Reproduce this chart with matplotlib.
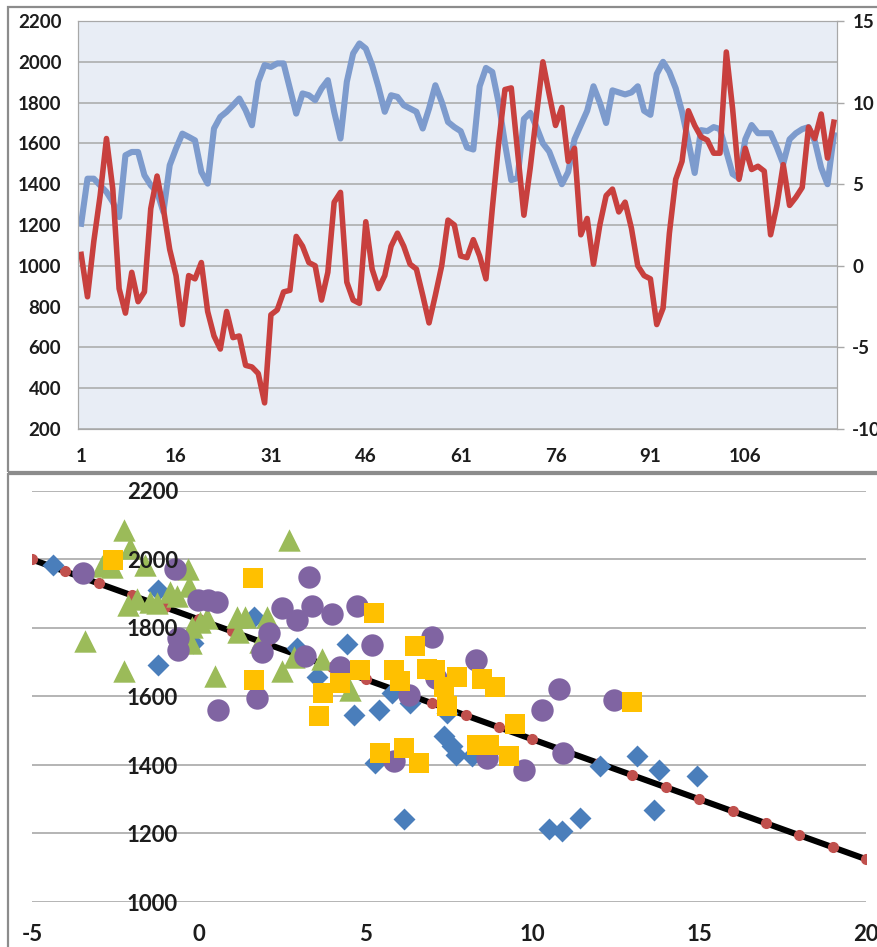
import matplotlib.pyplot as plt
from matplotlib.patches import Rectangle

plt.rcParams['font.family'] = ['Lato', 'DejaVu Sans']
plt.rcParams['axes.unicode_minus'] = False

# monthly series: left axis (blue) and right axis (red)
blue_vals = [1206, 1427, 1427, 1394, 1362, 1313, 1239, 1542, 1558, 1558,
             1444, 1395, 1362, 1264, 1493, 1575, 1648, 1632, 1615, 1460,
             1403, 1673, 1730, 1755, 1787, 1820, 1763, 1689, 1902, 1984,
             1975, 1992, 1992, 1869, 1746, 1845, 1836, 1812, 1869, 1910,
             1755, 1624, 1902, 2041, 2090, 2065, 1984, 1877, 1755, 1836,
             1828, 1787, 1771, 1755, 1673, 1771, 1885, 1804, 1705, 1680,
             1660, 1580, 1570, 1880, 1970, 1950, 1800, 1600, 1420, 1430,
             1720, 1750, 1680, 1600, 1560, 1480, 1400, 1460, 1620, 1690,
             1760, 1880, 1800, 1700, 1860, 1850, 1840, 1850, 1880, 1760,
             1740, 1940, 2000, 1950, 1870, 1755, 1610, 1455, 1665, 1660,
             1680, 1670, 1560, 1450, 1430, 1620, 1690, 1650, 1650, 1650,
             1580, 1500, 1620, 1650, 1670, 1680, 1610, 1480, 1400, 1640]
red_vals = [0.7, -1.9, 1.5, 4.3, 7.8, 4.7, -1.4, -2.9, -0.4, -2.2,
            -1.6, 3.5, 5.5, 3.5, 1.0, -0.6, -3.6, -0.6, -0.8, 0.2,
            -2.8, -4.3, -5.1, -2.8, -4.4, -4.3, -6.1, -6.2, -6.6, -8.4,
            -3.0, -2.7, -1.6, -1.5, 1.8, 1.2, 0.2, 0.0, -2.1, -0.4,
            3.9, 4.5, -1.0, -2.1, -2.3, 2.7, -0.2, -1.4, -0.6, 1.2,
            2.0, 1.2, 0.1, -0.2, -1.8, -3.5, -1.8, 0.0, 2.8, 2.5,
            0.6, 0.5, 1.6, 0.6, -0.8, 3.5, 7.5, 10.8, 10.9, 7.0,
            3.1, 6.0, 9.3, 12.5, 10.5, 8.6, 9.7, 6.4, 7.2, 1.9,
            2.9, 0.1, 2.5, 4.3, 4.7, 3.3, 3.9, 2.3, 0.0, -0.6,
            -0.8, -3.6, -2.6, 2.0, 5.3, 6.4, 9.5, 8.6, 7.9, 7.7,
            6.9, 6.9, 13.1, 9.6, 5.3, 7.2, 5.9, 6.1, 5.8, 1.9,
            3.7, 6.2, 3.7, 4.2, 4.8, 8.5, 7.8, 9.3, 6.6, 8.8]
months = list(range(1, len(blue_vals) + 1))
month_ticks = [1, 16, 31, 46, 61, 76, 91, 106]

# scatter groups
diamond_x = [-4.36, -1.21, -1.21, -0.16, 1.64, 2.94, 3.54, 4.44, 4.64, 5.39,
             5.29, 6.14, 5.79, 6.34, 7.35, 7.44, 7.6, 7.7, 8.2, 12.04,
             13.14, 13.79, 14.94, 13.64, 10.49, 10.89, 11.44]
diamond_y = [1984, 1911, 1692, 1756, 1833, 1741, 1658, 1754, 1546, 1561,
             1405, 1243, 1610, 1580, 1485, 1551, 1455, 1428, 1425, 1396,
             1425, 1386, 1367, 1269, 1213, 1206, 1245]
tri_x = [-2.23, -2.06, -2.91, -2.61, -1.61, -0.31, -0.28, -2.11, -1.86, -1.46,
         -1.26, -0.86, -0.66, -3.41, -2.23, -0.2, 0.04, 0.24, -0.22, 0.49,
         1.16, 1.38, 1.19, 2.04, 1.84, 2.69, 2.48, 2.84, 3.69, 4.54]
tri_y = [2086, 2033, 1980, 1979, 1984, 1972, 1923, 1867, 1884, 1876,
         1872, 1905, 1892, 1762, 1675, 1803, 1818, 1829, 1756, 1660,
         1831, 1832, 1788, 1831, 1760, 2057, 1675, 1714, 1709, 1619]
circ_x = [-3.46, -0.71, 3.29, -0.01, 0.29, 0.54, -0.61, -0.61, 2.49, 2.94,
          3.39, 3.99, 4.74, 2.09, 1.89, 3.19, 4.24, 5.19, 7.0, 6.29,
          7.1, 0.59, 1.74, 5.84, 8.32, 10.79, 10.29, 12.44, 10.92, 8.64, 9.74]
circ_y = [1960, 1972, 1950, 1882, 1882, 1877, 1770, 1736, 1858, 1824,
          1863, 1841, 1865, 1785, 1731, 1717, 1687, 1751, 1773, 1605,
          1655, 1561, 1597, 1413, 1707, 1623, 1561, 1590, 1434, 1421, 1386]
sq_x = [-2.56, 1.62, 5.26, 1.66, 3.71, 3.59, 4.24, 4.84, 5.84, 6.04,
        6.49, 6.84, 7.09, 7.34, 7.44, 7.74, 8.49, 8.89, 9.49, 8.34,
        8.69, 9.29, 12.99, 5.44, 6.14, 6.59]
sq_y = [1999, 1945, 1843, 1647, 1610, 1542, 1640, 1676, 1676, 1644,
        1746, 1680, 1678, 1627, 1571, 1658, 1651, 1627, 1520, 1459,
        1459, 1425, 1583, 1434, 1449, 1405]

# straight reference line with its marker points
fit_x = [-5, -4, -3, -2, -1, 0, 1, 2, 3, 4, 5, 6, 7, 8, 9, 10, 11, 12, 13,
         14, 15, 16, 17, 18, 19, 20]
fit_y = [2000, 1965, 1930, 1895, 1860, 1825, 1790, 1755, 1720, 1685, 1650,
         1615, 1580, 1545, 1510, 1475, 1440, 1405, 1370, 1335, 1300, 1265,
         1230, 1195, 1160, 1125]

W, H = 878, 947
fig = plt.figure(figsize=(W / 100, H / 100), dpi=100)

grid_c = '#A8A8A8'
txt_c = '#1C1C1C'

# ---- upper chart: two lines on twin axes
ax1 = fig.add_axes([78 / W, 1 - 429 / H, 759 / W, 408 / H])
ax1.set_facecolor('#E8EDF5')
ax1.plot(months, blue_vals, color='#7D9BCD', lw=4.4, solid_joinstyle='round')
ax1.set_xlim(0.5, len(months) + 0.5)
ax1.set_ylim(200, 2200)
ax1.set_yticks(range(200, 2201, 200))
ax1.set_xticks(month_ticks)
ax1.grid(axis='y', color=grid_c, lw=1.1)
ax1.set_axisbelow(True)
ax1.tick_params(axis='both', length=0, labelsize=13.5, colors=txt_c)
ax1.tick_params(axis='y', pad=12)
ax1.tick_params(axis='x', pad=14)
for lab in ax1.get_xticklabels() + ax1.get_yticklabels():
    lab.set_fontweight('bold')
for sp in ax1.spines.values():
    sp.set_color(grid_c)

ax2 = ax1.twinx()
ax2.plot(months, red_vals, color='#C8403E', lw=4.0, solid_joinstyle='round')
ax2.set_ylim(-10, 15)
ax2.set_yticks(range(-10, 16, 5))
ax2.tick_params(axis='y', length=5, width=1, color=grid_c, direction='out',
                pad=6, labelsize=13.5, colors=txt_c)
ax2.tick_params(axis='y', color=grid_c)
for lab in ax2.get_yticklabels():
    lab.set_fontweight('bold')
for sp in ax2.spines.values():
    sp.set_color(grid_c)

# ---- lower chart: scatter groups around the reference line
ax3 = fig.add_axes([32 / W, 1 - 902 / H, 834 / W, 411 / H])
ax3.set_xlim(-5, 20)
ax3.set_ylim(1000, 2200)
ax3.set_xticks(range(-5, 21, 5))
ax3.set_yticks(range(1000, 2201, 200))
for v in range(1000, 2201, 200):
    ax3.axhline(v, color=grid_c, lw=1.2, zorder=0.5)
for side in ['top', 'right', 'bottom']:
    ax3.spines[side].set_visible(False)
ax3.spines['left'].set_position(('data', 0))
ax3.spines['left'].set_color('none')
ax3.set_axisbelow(False)
ax3.tick_params(axis='both', length=0, labelsize=16, colors=txt_c)
ax3.tick_params(axis='y', pad=15)
ax3.tick_params(axis='x', pad=16)
for lab in ax3.get_xticklabels() + ax3.get_yticklabels():
    lab.set_fontweight('bold')

ax3.plot(fit_x, fit_y, color='black', lw=4.4, zorder=1.8,
         marker='o', ms=7, mfc='#C0504D', mec='#C0504D')
ax3.scatter(diamond_x, diamond_y, marker='D', s=125, color='#4A7EBB',
            lw=0, zorder=2)
ax3.scatter(tri_x, tri_y, marker='^', s=260, color='#9BBB59', lw=0, zorder=2)
ax3.scatter(circ_x, circ_y, marker='o', s=260, color='#8064A2', lw=0,
            zorder=2)
ax3.scatter(sq_x, sq_y, marker='s', s=190, color='#FFC000', lw=0, zorder=2)

# outer frames of both charts
frame_c = '#8C8C8C'
fig.add_artist(Rectangle((8 / W, 1 - 472 / H), 880 / W, 465 / H,
                         transform=fig.transFigure, fill=False,
                         edgecolor=frame_c, lw=1.6))
fig.add_artist(Rectangle((8 / W, -0.05), 880 / W, 0.05 + 1 - 474 / H,
                         transform=fig.transFigure, fill=False,
                         edgecolor=frame_c, lw=1.6))

fig.savefig('out.png', dpi=100)
